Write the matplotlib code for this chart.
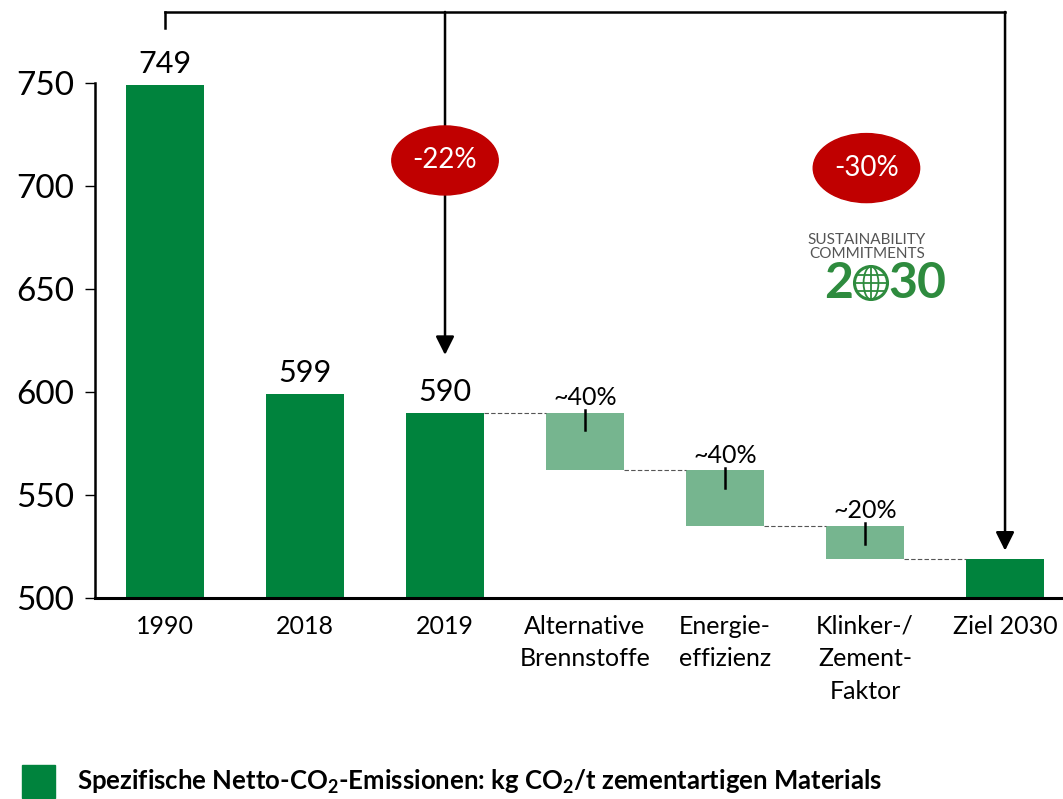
import matplotlib.pyplot as plt
from matplotlib.patches import Ellipse, Rectangle

plt.rcParams['font.family'] = ['Lato', 'DejaVu Sans']
plt.rcParams['mathtext.fontset'] = 'custom'
plt.rcParams['mathtext.rm'] = 'Lato'
plt.rcParams['mathtext.bf'] = 'Lato:bold'

# data
categories = ['1990', '2018', '2019', 'Alternative\nBrennstoffe',
              'Energie-\neffizienz', 'Klinker-/\nZement-\nFaktor', 'Ziel 2030']
totals = [749, 599, 590]          # full bars 1990, 2018, 2019
target = 519                      # Ziel 2030
levels = [590, 562, 535, 519]     # waterfall levels (start -> end)
shares = ['~40%', '~40%', '~20%']
badges = ['-22%', '-30%']
legend_label = (r'Spezifische Netto-CO$_\mathbf{2}$-Emissionen: '
                r'kg CO$_\mathbf{2}$/t zementartigen Materials')

dark = '#00833D'
light = '#76B58F'
red = '#C00000'

W, H = 1063, 799
fig = plt.figure(figsize=(W / 100, H / 100), dpi=100)
ax = fig.add_axes([95 / W, 201 / H, (W - 95) / W, (598 - 83) / H])

def px(x, y):
    return x / W, 1 - y / H

x = list(range(len(categories)))
bw = 0.56

# full bars
ax.bar(x[:3], [t - 500 for t in totals], bottom=500, width=bw, color=dark)
ax.bar(x[6], target - 500, bottom=500, width=bw, color=dark)
for i, t in enumerate(totals):
    ax.annotate(str(t), (x[i], t), xytext=(0, 5), textcoords='offset points',
                ha='center', va='bottom', fontsize=22)

# waterfall steps
for k in range(3):
    top, bot = levels[k], levels[k + 1]
    ax.bar(x[3 + k], top - bot, bottom=bot, width=bw, color=light)
    ax.plot([x[3 + k], x[3 + k]], [top + 1.3, top - 8.6], color='black', lw=1.8)
    ax.annotate(shares[k], (x[3 + k], top), xytext=(0, 2.5), textcoords='offset points',
                ha='center', va='bottom', fontsize=18)

# dashed connectors
for k in range(4):
    ax.plot([x[2 + k] + bw / 2, x[3 + k] - bw / 2], [levels[k], levels[k]],
            ls=(0, (4, 2)), color='#555555', lw=0.8)

# bracket + arrows
ytop = 784.5
ax.plot([x[0], x[6]], [ytop, ytop], color='black', lw=1.8, clip_on=False,
        solid_capstyle='projecting')
ax.plot([x[0], x[0]], [ytop, 776.5], color='black', lw=1.8, clip_on=False)
for xi, tip in [(x[2], 618), (x[6], 523)]:
    ax.annotate('', xy=(xi, tip), xytext=(xi, ytop), annotation_clip=False,
                arrowprops=dict(arrowstyle='-|>', mutation_scale=28, lw=1.8,
                                color='black', shrinkA=0, shrinkB=0))

# red badges
for (cx, cy), lab in zip([(2.0, 712.4), (5.01, 708.7)], badges):
    ax.add_patch(Ellipse((cx, cy), 0.76, 33.5, color=red, zorder=5, clip_on=False))
    ax.text(cx, cy, lab, color='white', ha='center', va='center', fontsize=20, zorder=6)

ax.set_xlim(-0.5, 6.414)
ax.set_ylim(500, 750)
ax.set_yticks([500, 550, 600, 650, 700, 750])
ax.set_xticks(x)
ax.set_xticklabels(categories, fontsize=18, linespacing=1.5)
ax.tick_params(axis='x', length=0, pad=12)
ax.tick_params(axis='y', length=7, width=1, labelsize=24, pad=8)
for s in ['top', 'right']:
    ax.spines[s].set_visible(False)
ax.spines['left'].set_linewidth(1.8)
ax.spines['bottom'].set_linewidth(2.2)

# logo
gray = '#555555'
lg = '#2E8B3E'
fig.text(*px(867, 240), 'SUSTAINABILITY', ha='center', va='center', fontsize=11, color=gray)
fig.text(*px(867, 254), 'COMMITMENTS', ha='center', va='center', fontsize=11, color=gray)
fig.text(*px(853, 284), '2', ha='right', va='center', fontsize=36, weight='bold', color=lg)
fig.text(*px(888, 284), '30', ha='left', va='center', fontsize=36, weight='bold', color=lg)
gx, gy = px(871, 283)
r = 16.5 / W
aspect = W / H
fig.add_artist(Ellipse((gx, gy), 2 * r, 2 * r * aspect, transform=fig.transFigure,
                       fill=False, ec=lg, lw=2.2))
fig.add_artist(Ellipse((gx, gy), 2 * r * 0.45, 2 * r * aspect,
                       transform=fig.transFigure, fill=False, ec=lg, lw=1.3))
fig.add_artist(plt.Line2D([gx, gx], [gy - r * aspect, gy + r * aspect],
                          transform=fig.transFigure, color=lg, lw=1.3))
for dy in [-0.5, 0, 0.5]:
    hw = r * (1 - dy ** 2) ** 0.5
    yy = gy + dy * r * aspect
    fig.add_artist(plt.Line2D([gx - hw, gx + hw], [yy, yy], transform=fig.transFigure,
                              color=lg, lw=1.3))

# legend
fig.add_artist(Rectangle(px(22, 798), 33 / W, 33 / H, transform=fig.transFigure,
                         color=dark))
fig.text(*px(77, 782), legend_label, ha='left', va='center', fontsize=18.5, weight='bold')

fig.savefig('out.png', dpi=100)
